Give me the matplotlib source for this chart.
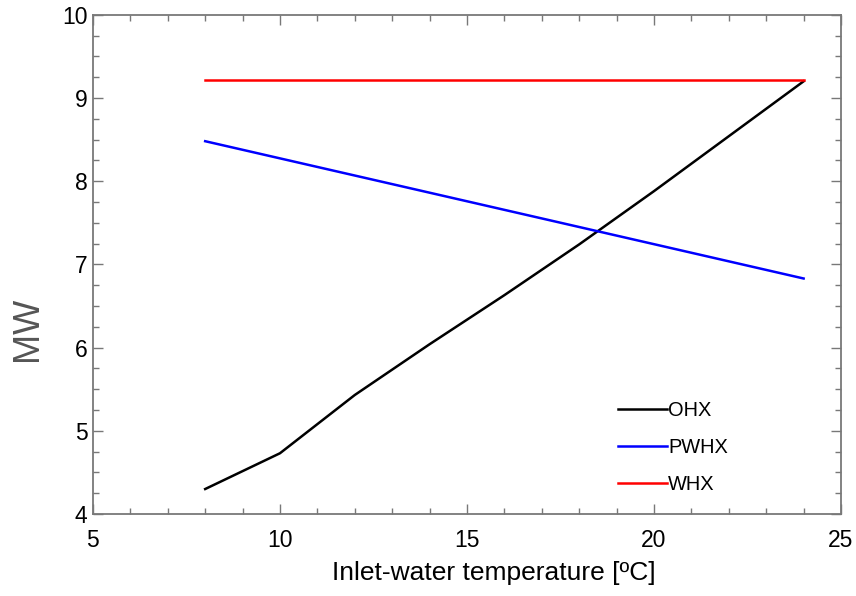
import numpy as np
import matplotlib
matplotlib.use('Agg')
import matplotlib.pyplot as plt
from matplotlib.ticker import MultipleLocator

plt.rcParams['font.family'] = ['Liberation Sans', 'DejaVu Sans']

temp = [8, 10, 12, 14, 16, 18, 20, 22, 24]
ohx = [4.30, 4.73, 5.43, 6.04, 6.63, 7.24, 7.88, 8.54, 9.20]
pwhx_temp = [8, 24]
pwhx = [8.48, 6.83]
whx_temp = [8, 24]
whx = [9.21, 9.21]

grey = '#787878'

fig = plt.figure(figsize=(8.56, 5.96), dpi=100)
ax = fig.add_axes([0.1086, 0.1376, 0.8739, 0.8377])

ax.plot(temp, ohx, color='black', lw=1.8, label='OHX')
ax.plot(pwhx_temp, pwhx, color='blue', lw=1.8, label='PWHX')
ax.plot(whx_temp, whx, color='red', lw=1.8, label='WHX')

ax.set_xlim(5, 25)
ax.set_ylim(4, 10)
ax.xaxis.set_major_locator(MultipleLocator(5))
ax.xaxis.set_minor_locator(MultipleLocator(1))
ax.yaxis.set_major_locator(MultipleLocator(1))
ax.yaxis.set_minor_locator(MultipleLocator(0.25))
ax.tick_params(which='both', direction='in', top=True, right=True,
               color=grey, width=1.0, labelsize=16.5, labelcolor='black')
ax.tick_params(which='major', length=7)
ax.tick_params(which='minor', length=4)
ax.tick_params(axis='x', which='major', pad=11)
ax.tick_params(axis='y', which='major', pad=4)
for sp in ax.spines.values():
    sp.set_color(grey)
    sp.set_linewidth(1.3)

ax.set_xlabel('Inlet-water temperature [ºC]', fontsize=19, labelpad=7)
ax.xaxis.set_label_coords(0.536, -0.095)
ax.xaxis.label.set_va('top')
ax.set_ylabel('MW', fontsize=26, color='#555555')
ax.yaxis.set_label_coords(-0.064, 0.37)

ax.legend(loc='upper left', bbox_to_anchor=(0.702, 0.226), frameon=False,
          fontsize=14.4, handlelength=2.45, handletextpad=0.05,
          labelspacing=0.9, borderpad=0, borderaxespad=0)

fig.savefig('out.png', dpi=100)
